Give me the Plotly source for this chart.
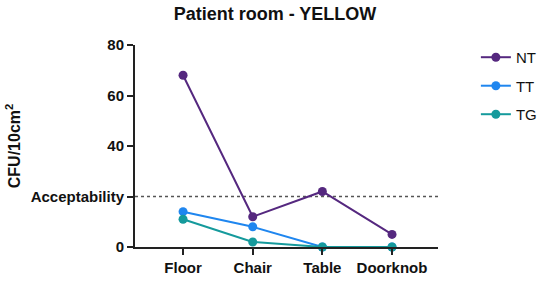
import plotly.graph_objects as go

categories = ["Floor", "Chair", "Table", "Doorknob"]
nt = [68, 12, 22, 5]
tt = [14, 8, 0, 0]
tg = [11, 2, 0, 0]
y_tickvals = [0, 20, 40, 60, 80]
y_ticktext = ["0", "Acceptability", "40", "60", "80"]
acceptability = 20

colors = {"NT": "#55287f", "TT": "#1f86ef", "TG": "#159a9c"}

fig = go.Figure()
for name, vals in [("NT", nt), ("TT", tt), ("TG", tg)]:
    fig.add_trace(go.Scatter(
        x=list(range(len(categories))), y=vals, name=name,
        legendgroup=name,
        mode="lines+markers",
        line=dict(color=colors[name], width=2),
        marker=dict(color=colors[name], size=9),
        cliponaxis=False,
    ))

fig.add_shape(type="line", xref="paper", yref="y", x0=0, x1=1,
              y0=acceptability, y1=acceptability,
              line=dict(color="#555555", width=1.5, dash="dot"), layer="below")

fig.update_layout(
    width=550, height=281,
    margin=dict(l=135, r=112, t=45, b=34, autoexpand=False),
    paper_bgcolor="white", plot_bgcolor="white",
    font=dict(family="Arial, Liberation Sans, sans-serif", color="#111111"),
    title=dict(text="Patient room - YELLOW", x=0.5, xanchor="center", y=0.95, yanchor="middle",
               font=dict(size=18, weight="bold", color="#111111")),
    showlegend=True,
    legend=dict(x=1.125, xanchor="left", y=1.02, yanchor="top",
                font=dict(size=15, color="#111111"), itemwidth=30,
                tracegroupgap=6, bgcolor="rgba(0,0,0,0)"),
    xaxis=dict(
        tickvals=list(range(len(categories))), ticktext=categories,
        range=[-0.69, 3.66], showgrid=False, zeroline=False, automargin=False,
        showline=True, linecolor="#222222", linewidth=2,
        ticks="outside", ticklen=6, tickwidth=2, tickcolor="#222222",
        tickfont=dict(size=15, weight="bold", color="#111111"),
    ),
    yaxis=dict(
        tickvals=y_tickvals, ticktext=y_ticktext, range=[0, 80],
        showgrid=False, zeroline=False, automargin=False,
        showline=True, linecolor="#222222", linewidth=2,
        ticks="outside", ticklen=6, tickwidth=2, tickcolor="#222222",
        tickfont=dict(size=15, weight="bold", color="#111111"),
        title=dict(text="CFU/10cm<sup>2</sup>", font=dict(size=16, weight="bold", color="#111111"),
                   standoff=6),
    ),
)

fig.write_html("out.html", config={"displayModeBar": False},
               post_script="document.body.style.margin='0';")
